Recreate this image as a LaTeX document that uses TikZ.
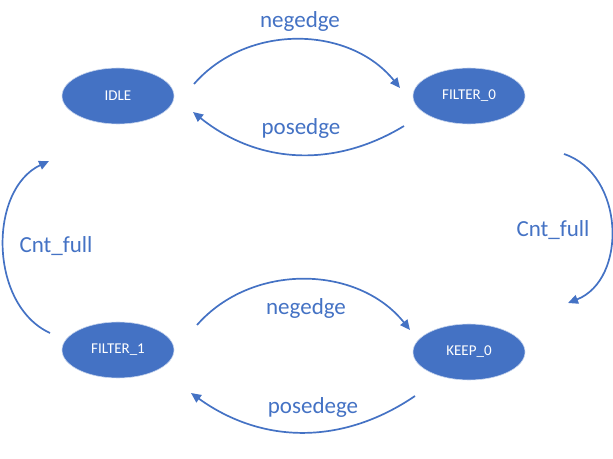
\documentclass[tikz,border=0pt]{standalone}
\usepackage{fontspec}
\setmainfont{Carlito}
\usetikzlibrary{arrows.meta,shapes.geometric}
\definecolor{ofblue}{HTML}{4472C4}
\tikzstyle{state}=[ellipse,fill=ofblue,draw=white!70!ofblue,line width=0.6pt,minimum width=112pt,minimum height=56pt,inner sep=0pt,text=white,font=\fontsize{15}{18}\selectfont]
\tikzstyle{trans}=[ofblue,line width=1.7pt,-{Triangle[length=10pt,width=9pt]}]
\tikzstyle{cond}=[text=ofblue,font=\fontsize{23}{27}\selectfont]

\begin{document}
\begin{tikzpicture}[x=1pt, y=1pt]
      \useasboundingbox (0,0) rectangle (613,458);

      \node[state] (idle) at (118, 362) {IDLE};
      \node[state] (filter0) at (469, 362) {FILTER\_0};
      \node[state] (filter1) at (118, 108) {FILTER\_1};
      \node[state] (keep0) at (469, 106) {KEEP\_0};

      % arrow ends
      \coordinate (n1s) at (194, 374);
      \coordinate (n1e) at (400, 370);
      \coordinate (p1s) at (404, 332);
      \coordinate (p1e) at (193, 346);
      \coordinate (c1s) at (564, 304);
      \coordinate (c1e) at (568, 155);
      \coordinate (c2s) at (50, 125);
      \coordinate (c2e) at (49, 297);
      \coordinate (n2s) at (197, 133);
      \coordinate (n2e) at (410, 128);
      \coordinate (p2s) at (415, 62);
      \coordinate (p2e) at (191, 65);

      \draw[trans] (n1s) to[bend left=50] (n1e);
      \draw[trans] (p1s) to[bend left=35] (p1e);
      \draw[trans] (c1s) to[bend left=70, looseness=1.1] (c1e);
      \draw[trans] (c2s) to[bend left=65] (c2e);
      \draw[trans] (n2s) to[bend left=50] (n2e);
      \draw[trans] (p2s) to[bend left=35] (p2e);

      \node[cond] (neg1) at (300, 437) {negedge};
      \node[cond] (pos1) at (301, 330) {posedge};
      \node[cond] (full0) at (553, 228) {Cnt\_full};
      \node[cond] (full1) at (56, 212) {Cnt\_full};
      \node[cond] (neg2) at (306, 150) {negedge};
      \node[cond] (pos2) at (313, 51) {posedege};
    \end{tikzpicture}
\end{document}
